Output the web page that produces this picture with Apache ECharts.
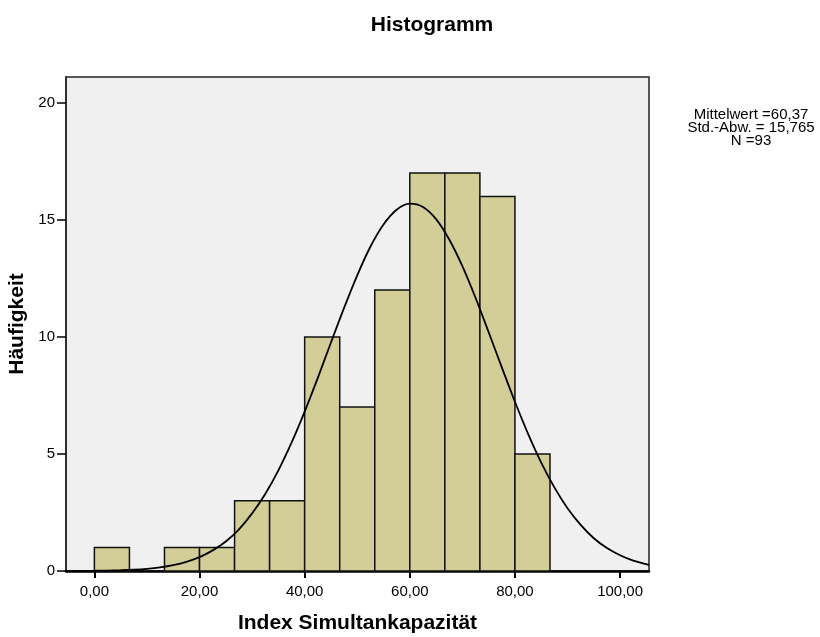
<!DOCTYPE html>
<html>
<head>
<meta charset="utf-8">
<script src="https://cdn.jsdelivr.net/npm/echarts@6/dist/echarts.min.js"></script>
<style>html,body{margin:0;padding:0;background:#fff;}#c{width:820px;height:637px;}</style>
</head>
<body>
<div id="c"></div>
<script>
// Histogram bins
const binStart = [0, 6.667, 13.333, 20, 26.667, 33.333, 40, 46.667, 53.333, 60, 66.667, 73.333, 80];
const binEnd   = [6.667, 13.333, 20, 26.667, 33.333, 40, 46.667, 53.333, 60, 66.667, 73.333, 80, 86.667];
const counts   = [1, 0, 1, 1, 3, 3, 10, 7, 12, 17, 17, 16, 5];
// Normal curve points
const curveX = [-5.4, -2.5, 0, 2.5, 5, 7.5, 10, 12.5, 15, 17.5, 20, 22.5, 25, 27.5, 30, 32.5, 35, 37.5, 40, 42.5, 45, 47.5, 50, 52.5, 55, 57.5, 60, 62.5, 65, 67.5, 70, 72.5, 75, 77.5, 80, 82.5, 85, 87.5, 90, 92.5, 95, 97.5, 100, 102.5, 105.5];
const curveY = [0.003, 0.006, 0.01, 0.019, 0.033, 0.057, 0.095, 0.156, 0.25, 0.39, 0.59, 0.88, 1.26, 1.78, 2.46, 3.29, 4.30, 5.48, 6.81, 8.25, 9.76, 11.24, 12.63, 13.85, 14.80, 15.43, 15.69, 15.55, 15.03, 14.16, 13.02, 11.67, 10.20, 8.70, 7.23, 5.86, 4.63, 3.57, 2.68, 1.97, 1.40, 0.98, 0.67, 0.44, 0.26];
const xTicks = [0, 20, 40, 60, 80, 100];
const yTicks = [0, 5, 10, 15, 20];
const statLines = ['Mittelwert =60,37', 'Std.-Abw. = 15,765', 'N =93'];

const FONT = '"Liberation Sans", Arial, sans-serif';
const chart = echarts.init(document.getElementById('c'));
const barData = binStart.map((s, i) => [s, binEnd[i], counts[i]]).filter(d => d[2] > 0);
const lineData = curveX.map((x, i) => [x, curveY[i]]);

chart.setOption({
  animation: false,
  textStyle: {fontFamily: FONT},
  title: {
    text: 'Histogramm', left: 427, top: 10, textAlign: 'center',
    textStyle: {fontFamily: FONT, fontSize: 21, fontWeight: 'bold', color: '#000'}
  },
  grid: {left: 66, top: 77, right: 171, bottom: 66, show: true, containLabel: false,
    outerBoundsMode: 'none',
    backgroundColor: '#F0F0F0', borderColor: '#222', borderWidth: 1.5},
  xAxis: {
    type: 'value', min: -5.4, max: 105.5,
    name: 'Index Simultankapazität', nameLocation: 'middle', nameGap: 42,
    nameTextStyle: {fontFamily: FONT, fontSize: 21, fontWeight: 'bold', color: '#000'},
    axisLine: {show: true, onZero: false, lineStyle: {color: '#000', width: 2.5}},
    axisTick: {show: true, length: 7, customValues: xTicks, lineStyle: {color: '#000', width: 2}},
    axisLabel: {customValues: xTicks, margin: 13, fontSize: 15, color: '#000', fontFamily: FONT,
      formatter: v => v.toFixed(2).replace('.', ',')},
    splitLine: {show: false}
  },
  yAxis: {
    type: 'value', min: 0, max: 21.1,
    name: 'Häufigkeit', nameLocation: 'middle', nameGap: 31,
    nameTextStyle: {fontFamily: FONT, fontSize: 21, fontWeight: 'bold', color: '#000'},
    axisLine: {show: true, onZero: false, lineStyle: {color: '#222', width: 1.5}},
    axisTick: {show: true, length: 9, customValues: yTicks, lineStyle: {color: '#000', width: 1.5}},
    axisLabel: {customValues: yTicks, margin: 11, fontSize: 15, color: '#000', fontFamily: FONT},
    splitLine: {show: false}
  },
  graphic: statLines.map((t, i) => ({
    type: 'text', x: 751, y: 115 + i * 13,
    style: {text: t, fontSize: 15, fontFamily: FONT, fill: '#000', align: 'center', verticalAlign: 'middle'}
  })),
  series: [
    {
      type: 'custom',
      data: barData,
      renderItem: (params, api) => {
        const p0 = api.coord([api.value(0), 0]);
        const p1 = api.coord([api.value(1), api.value(2)]);
        return {
          type: 'rect',
          shape: {x: p0[0], y: p1[1], width: p1[0] - p0[0], height: p0[1] - p1[1]},
          style: {fill: '#D3CE97', stroke: '#111', lineWidth: 1.5}
        };
      },
      encode: {x: [0, 1], y: 2},
      z: 2
    },
    {
      type: 'line', data: lineData, smooth: 0.3, showSymbol: false,
      lineStyle: {color: '#000', width: 1.8}, z: 3
    }
  ]
});
</script>
</body>
</html>
